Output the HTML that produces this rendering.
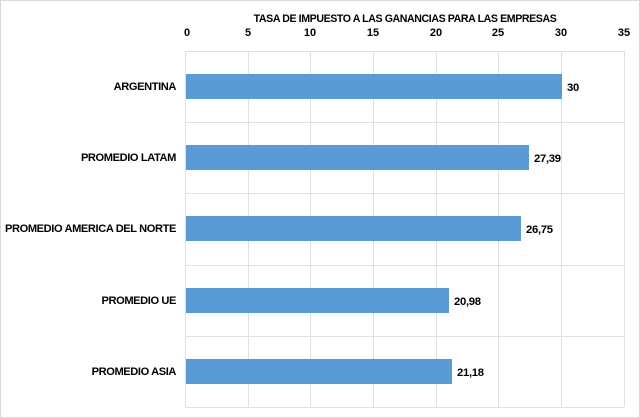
<!DOCTYPE html>
<html><head><meta charset="utf-8"><style>
body{margin:0;background:#fff;}
svg{display:block;font-family:"Liberation Sans",sans-serif;font-weight:bold;}
</style></head><body>
<svg width="640" height="418" viewBox="0 0 640 418">
<rect x="0.5" y="0.5" width="639" height="417" fill="#fff" stroke="#d9d9d9"/>
<g stroke="#e0e0e0" stroke-width="1">
<line x1="185.5" y1="51" x2="185.5" y2="407"/>
<line x1="248.5" y1="51" x2="248.5" y2="407"/>
<line x1="310.5" y1="51" x2="310.5" y2="407"/>
<line x1="373.5" y1="51" x2="373.5" y2="407"/>
<line x1="436.5" y1="51" x2="436.5" y2="407"/>
<line x1="498.5" y1="51" x2="498.5" y2="407"/>
<line x1="561.5" y1="51" x2="561.5" y2="407"/>
<line x1="624.5" y1="51" x2="624.5" y2="407"/>
<line x1="185" y1="51.5" x2="624" y2="51.5"/>
<line x1="185" y1="122.5" x2="624" y2="122.5"/>
<line x1="185" y1="193.5" x2="624" y2="193.5"/>
<line x1="185" y1="265.5" x2="624" y2="265.5"/>
<line x1="185" y1="336.5" x2="624" y2="336.5"/>
<line x1="185" y1="407.5" x2="624" y2="407.5"/>
</g>
<text x="405" y="22" font-size="10.6" text-anchor="middle" fill="#000" letter-spacing="-0.4">TASA DE IMPUESTO A LAS GANANCIAS PARA LAS EMPRESAS</text>
<g font-size="11" text-anchor="middle" fill="#000">
<text x="187" y="36">0</text><text x="248" y="36">5</text><text x="310" y="36">10</text><text x="373" y="36">15</text><text x="436" y="36">20</text><text x="498" y="36">25</text><text x="561" y="36">30</text><text x="624" y="36">35</text>
</g>
<g fill="#5b9bd5">
<rect x="186" y="74" width="376" height="25"/>
<rect x="186" y="145" width="343" height="25"/>
<rect x="186" y="216" width="335" height="25"/>
<rect x="186" y="288" width="263" height="25"/>
<rect x="186" y="359" width="266" height="25"/>
</g>
<g font-size="11.1" text-anchor="end" fill="#000" letter-spacing="-0.4">
<text x="176" y="90">ARGENTINA</text>
<text x="176" y="161">PROMEDIO LATAM</text>
<text x="176" y="232">PROMEDIO AMERICA DEL NORTE</text>
<text x="176" y="304">PROMEDIO UE</text>
<text x="176" y="375">PROMEDIO ASIA</text>
</g>
<g font-size="11.3" fill="#000" letter-spacing="-0.3">
<text x="567" y="91">30</text>
<text x="534" y="162">27,39</text>
<text x="526" y="233">26,75</text>
<text x="454" y="305">20,98</text>
<text x="457" y="376">21,18</text>
</g>
</svg>
</body></html>
